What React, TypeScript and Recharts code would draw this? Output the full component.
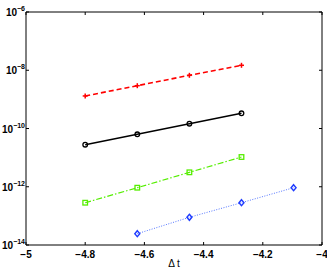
import React from 'react';
import { LineChart, Line, XAxis, YAxis } from 'recharts';

const xRed = [-4.8, -4.624, -4.448, -4.272];
const yRed = [1.31e-9, 2.95e-9, 6.7e-9, 1.48e-8];
const xBlack = [-4.8, -4.624, -4.448, -4.272];
const yBlack = [2.78e-11, 6.32e-11, 1.46e-10, 3.33e-10];
const xGreen = [-4.8, -4.624, -4.448, -4.272];
const yGreen = [2.83e-13, 9.27e-13, 3.13e-12, 1.05e-11];
const xBlue = [-4.624, -4.448, -4.272, -4.096];
const yBlue = [2.44e-14, 8.93e-14, 2.83e-13, 9.27e-13];

const xTicks = [-5, -4.8, -4.6, -4.4, -4.2, -4];
const xTickLabels = ['−5', '−4.8', '−4.6', '−4.4', '−4.2', '−4'];
const yTicks = [1e-14, 1e-12, 1e-10, 1e-8, 1e-6];
const yExponents = ['−14', '−12', '−10', '−8', '−6'];

const toData = (xs: number[], ys: number[]) => xs.map((x, i) => ({ x, y: ys[i] }));
const redData = toData(xRed, yRed);
const blackData = toData(xBlack, yBlack);
const greenData = toData(xGreen, yGreen);
const blueData = toData(xBlue, yBlue);

const FONT = '"Liberation Sans", Arial, Helvetica, sans-serif';

const BottomTick = (props: any) => {
  const { x, y, index } = props;
  return (
    <g>
      <line x1={x} x2={x} y1={y} y2={y - 3} stroke="#000" strokeWidth={1} />
      <text x={x} y={y + 13} textAnchor="middle" fontSize={10} fontWeight="bold" fontFamily={FONT} fill="#000">
        {xTickLabels[index]}
      </text>
    </g>
  );
};

const TopTick = (props: any) => {
  const { x, y } = props;
  return <line x1={x} x2={x} y1={y} y2={y + 3} stroke="#000" strokeWidth={1} />;
};

const LeftTick = (props: any) => {
  const { x, y, index } = props;
  return (
    <g>
      <line x1={x} x2={x + 3} y1={y} y2={y} stroke="#000" strokeWidth={1} />
      <text x={x - 1} y={y + 4} textAnchor="end" fontSize={10} fontWeight="bold" fontFamily={FONT} fill="#000">
        10
        <tspan dy={-5} fontSize={7}>{yExponents[index]}</tspan>
      </text>
    </g>
  );
};

const RightTick = (props: any) => {
  const { x, y } = props;
  return <line x1={x} x2={x - 3} y1={y} y2={y} stroke="#000" strokeWidth={1} />;
};

const PlusDot = (props: any) => {
  const { cx, cy } = props;
  if (cx == null || cy == null) return null;
  return (
    <g>
      <line x1={cx - 2.5} x2={cx + 2.5} y1={cy} y2={cy} stroke="#ff0000" strokeWidth={1.5} />
      <line x1={cx} x2={cx} y1={cy - 2.5} y2={cy + 2.5} stroke="#ff0000" strokeWidth={1.5} />
    </g>
  );
};

const CircleDot = (props: any) => {
  const { cx, cy } = props;
  if (cx == null || cy == null) return null;
  return <circle cx={cx} cy={cy} r={2.3} fill="none" stroke="#000" strokeWidth={1.3} />;
};

const SquareDot = (props: any) => {
  const { cx, cy } = props;
  if (cx == null || cy == null) return null;
  return <rect x={cx - 2.3} y={cy - 2.3} width={4.6} height={4.6} fill="none" stroke="#55ee00" strokeWidth={1.3} />;
};

const DiamondDot = (props: any) => {
  const { cx, cy } = props;
  if (cx == null || cy == null) return null;
  return (
    <path
      d={`M${cx},${cy - 3} L${cx + 2.5},${cy} L${cx},${cy + 3} L${cx - 2.5},${cy} Z`}
      fill="none"
      stroke="#1f3cff"
      strokeWidth={1.4}
    />
  );
};

export default function App() {
  return (
    <div style={{ position: 'absolute', left: 0, top: 0, background: '#fff' }}>
      <LineChart width={327} height={273} margin={{ top: 11, right: 4, left: 0, bottom: 0 }}>
        <XAxis
          xAxisId="b"
          dataKey="x"
          type="number"
          domain={[-5, -4]}
          ticks={xTicks}
          allowDataOverflow
          height={28}
          tickSize={0}
          tickMargin={0}
          tickLine={false}
          axisLine={{ stroke: '#000', strokeWidth: 1 }}
          tick={<BottomTick />}
          interval={0}
          label={{ value: 'Δ t', position: 'insideBottom', offset: 6, fontSize: 10, fontFamily: FONT, fill: '#000' }}
        />
        <XAxis
          xAxisId="t"
          dataKey="x"
          orientation="top"
          type="number"
          domain={[-5, -4]}
          ticks={xTicks}
          allowDataOverflow
          height={1}
          tickSize={0}
          tickMargin={0}
          tickLine={false}
          axisLine={{ stroke: '#000', strokeWidth: 1 }}
          tick={<TopTick />}
          interval={0}
        />
        <YAxis
          yAxisId="l"
          dataKey="y"
          scale="log"
          type="number"
          domain={[1e-14, 1e-6]}
          ticks={yTicks}
          allowDataOverflow
          width={26}
          tickSize={0}
          tickMargin={0}
          tickLine={false}
          axisLine={{ stroke: '#000', strokeWidth: 1 }}
          tick={<LeftTick />}
          interval={0}
        />
        <YAxis
          yAxisId="r"
          dataKey="y"
          orientation="right"
          scale="log"
          type="number"
          domain={[1e-14, 1e-6]}
          ticks={yTicks}
          allowDataOverflow
          width={1}
          tickSize={0}
          tickMargin={0}
          tickLine={false}
          axisLine={{ stroke: '#000', strokeWidth: 1 }}
          tick={<RightTick />}
          interval={0}
        />
        <Line xAxisId="b" yAxisId="l" data={redData} dataKey="y" stroke="#ff0000" strokeWidth={1.6} strokeDasharray="5 3" dot={<PlusDot />} isAnimationActive={false} />
        <Line xAxisId="b" yAxisId="l" data={blackData} dataKey="y" stroke="#000" strokeWidth={1.4} dot={<CircleDot />} isAnimationActive={false} />
        <Line xAxisId="b" yAxisId="l" data={greenData} dataKey="y" stroke="#55ee00" strokeWidth={1.2} strokeDasharray="6 2 1.5 2" dot={<SquareDot />} isAnimationActive={false} />
        <Line xAxisId="b" yAxisId="l" data={blueData} dataKey="y" stroke="#5577ff" strokeWidth={1} strokeDasharray="1 1.5" dot={<DiamondDot />} isAnimationActive={false} />
        <Line xAxisId="t" yAxisId="r" data={blueData} dataKey="y" stroke="none" dot={false} activeDot={false} legendType="none" isAnimationActive={false} />
      </LineChart>
    </div>
  );
}
